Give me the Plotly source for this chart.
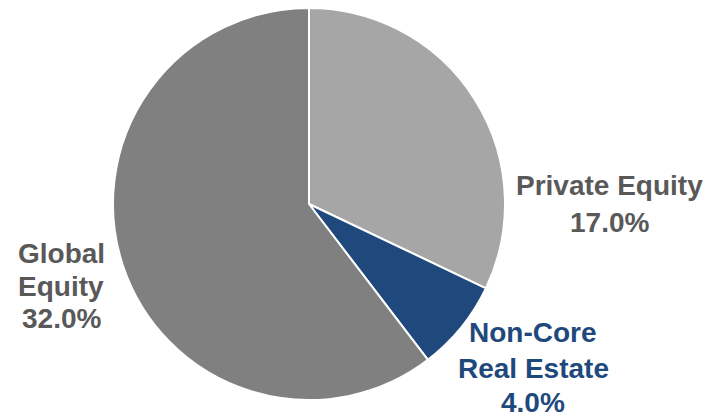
import plotly.graph_objects as go

# Allocation data
categories = ["Private Equity", "Non-Core Real Estate", "Global Equity"]
values = [17.0, 4.0, 32.0]
label_lines = [["Private Equity"], ["Non-Core", "Real Estate"], ["Global", "Equity"]]
colors = ["#A6A6A6", "#1F497D", "#808080"]
text_colors = ["#595959", "#1F497D", "#595959"]

W, H = 711, 417
cx, cy, r = 309, 204, 196

fig = go.Figure(go.Pie(
    labels=categories,
    values=values,
    sort=False,
    direction="clockwise",
    rotation=0,
    marker=dict(colors=colors, line=dict(color="white", width=2)),
    textinfo="none",
    hoverinfo="label+value",
    showlegend=False,
    domain=dict(x=[(cx - r) / W, (cx + r) / W], y=[1 - (cy + r) / H, 1 - (cy - r) / H]),
))

# Label block placement: centre x and the vertical centre of each text line (pixels)
label_x = [609, 533, 61]
label_line_y = [[185, 222], [332, 368, 402], [253, 286, 318]]
for lines, val, col, px, ys in zip(label_lines, values, text_colors, label_x, label_line_y):
    all_lines = lines + [f"{val:.1f}%"]
    for line, py in zip(all_lines, ys):
        fig.add_annotation(
            x=px / W, y=1 - py / H, xref="paper", yref="paper",
            text=f"<b>{line}</b>", showarrow=False,
            font=dict(family="Liberation Sans, Arial, sans-serif", size=28, color=col),
            align="center", xanchor="center", yanchor="middle",
        )

fig.update_layout(
    width=W, height=H,
    margin=dict(l=0, r=0, t=0, b=0),
    paper_bgcolor="white", plot_bgcolor="white",
)

fig.write_html("out.html")
